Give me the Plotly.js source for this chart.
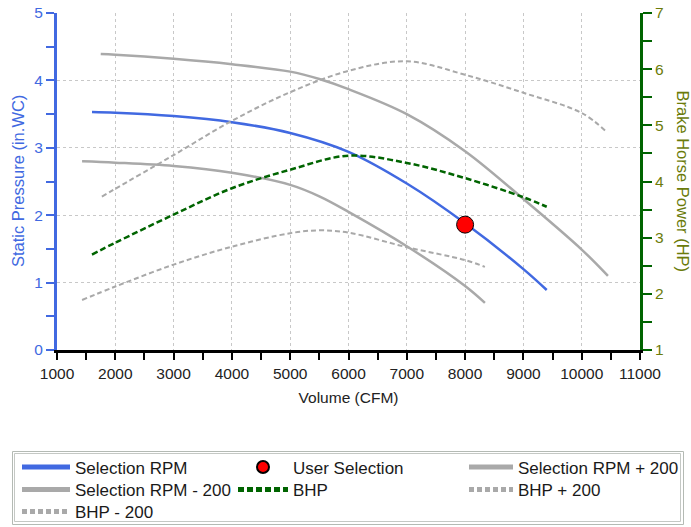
<!DOCTYPE html>
<html>
<head>
<meta charset="utf-8">
<script src="https://cdn.plot.ly/plotly-3.0.1.min.js"></script>
<style>html,body{margin:0;padding:0;background:#fff;}#chart{width:691px;height:527px;}</style>
</head>
<body>
<div id="chart"></div>
<script>
// ---- data ----
const cfmSel   = [1600, 2000, 3000, 4000, 5000, 6000, 7000, 8000, 9000, 9400];
const spSel    = [3.53, 3.52, 3.47, 3.38, 3.22, 2.94, 2.47, 1.88, 1.20, 0.89];

const cfmPlus  = [1750, 2000, 3000, 4000, 5000, 5500, 6000, 7000, 8000, 9000, 10000, 10450];
const spPlus   = [4.39, 4.38, 4.32, 4.24, 4.13, 4.02, 3.87, 3.50, 2.95, 2.24, 1.49, 1.10];

const cfmMinus = [1430, 2000, 3000, 4000, 5000, 5500, 6000, 7000, 8000, 8340];
const spMinus  = [2.80, 2.78, 2.73, 2.63, 2.45, 2.28, 2.05, 1.54, 0.95, 0.70];

const cfmBhp   = [1600, 2000, 3000, 4000, 5000, 6000, 7000, 8000, 9000, 9400];
const bhp      = [2.70, 2.91, 3.41, 3.88, 4.21, 4.46, 4.33, 4.06, 3.72, 3.55];

const cfmBhpP  = [1770, 2000, 3000, 4000, 5000, 6000, 7000, 8000, 9000, 10000, 10400];
const bhpPlus  = [3.73, 3.87, 4.47, 5.08, 5.59, 5.97, 6.14, 5.90, 5.58, 5.22, 4.91];

const cfmBhpM  = [1430, 2000, 3000, 4000, 5000, 5500, 6000, 7000, 8000, 8340];
const bhpMinus = [1.89, 2.13, 2.52, 2.84, 3.08, 3.13, 3.09, 2.83, 2.60, 2.48];

const userCfm  = [8000];
const userSp   = [1.86];

const seriesNames = ["Selection RPM", "User Selection", "Selection RPM + 200",
                     "Selection RPM - 200", "BHP", "BHP + 200", "BHP - 200"];
const xTitle  = "Volume (CFM)";
const yTitle  = "Static Pressure (in.WC)";
const y2Title = "Brake Horse Power (HP)";

// ---- styling ----
const BLUE = "#4169E1", GREEN = "#006400", GRAY = "#A9A9A9", OLIVE = "#6b7b0a";
const FONT = "Arial, 'Liberation Sans', sans-serif";
const W = 691, H = 527, ML = 57, MR = 51, MT = 13, MB = 177;
const PW = W - ML - MR, PH = H - MT - MB;
const px2x = p => (p - ML) / PW;
const px2y = p => (H - MB - p) / PH;

const traces = [
  {x: cfmSel, y: spSel, name: seriesNames[0], mode: "lines", line: {color: BLUE, width: 2.5, shape: "spline", smoothing: 1}, legend: "legend"},
  {x: userCfm, y: userSp, name: seriesNames[1], mode: "markers", marker: {color: "#ff0000", size: 17, line: {color: "#000", width: 1}}, legend: "legend2"},
  {x: cfmPlus, y: spPlus, name: seriesNames[2], mode: "lines", line: {color: GRAY, width: 2.5, shape: "spline", smoothing: 1}, legend: "legend3"},
  {x: cfmMinus, y: spMinus, name: seriesNames[3], mode: "lines", line: {color: GRAY, width: 2.5, shape: "spline", smoothing: 1}, legend: "legend4"},
  {x: cfmBhp, y: bhp, name: seriesNames[4], yaxis: "y2", mode: "lines", line: {color: GREEN, width: 2.5, dash: "6px,3px", shape: "spline", smoothing: 1}, legend: "legend5"},
  {x: cfmBhpP, y: bhpPlus, name: seriesNames[5], yaxis: "y2", mode: "lines", line: {color: GRAY, width: 2, dash: "5px,3px", shape: "spline", smoothing: 1}, legend: "legend6"},
  {x: cfmBhpM, y: bhpMinus, name: seriesNames[6], yaxis: "y2", mode: "lines", line: {color: GRAY, width: 2, dash: "5px,3px", shape: "spline", smoothing: 1}, legend: "legend7"}
];
// draw order: put user selection on top
const order = [2, 3, 5, 6, 4, 0, 1];
const data = order.map(i => traces[i]);

function leg(xpx, rowCenter, iw) {
  return {
    xref: "container", yref: "container",
    x: xpx / W, y: 1 - (rowCenter - 17.5) / H,
    xanchor: "left", yanchor: "top",
    bgcolor: "rgba(0,0,0,0)", borderwidth: 0,
    itemwidth: iw, itemsizing: "constant",
    font: {family: FONT, size: 17, color: "#1a1a1a"}
  };
}
const r1 = 467, r2 = 489.5, r3 = 511.5;

const layout = {
  width: W, height: H,
  margin: {l: ML, r: MR, t: MT, b: MB, pad: 0, autoexpand: false},
  paper_bgcolor: "#fff", plot_bgcolor: "#fff",
  showlegend: true,
  font: {family: FONT},
  xaxis: {
    range: [1000, 11000], tick0: 1000, dtick: 1000, tickformat: "d",
    ticks: "outside", ticklen: 7, tickwidth: 2, tickcolor: "#000",
    showline: true, linecolor: "#000", linewidth: 3,
    showgrid: true, gridcolor: "#c8c8c8", griddash: "3px,3px", gridwidth: 1,
    zeroline: false, tickangle: 0,
    minor: {dtick: 500, ticks: "outside", ticklen: 7, tickwidth: 2, tickcolor: "#000", showgrid: false},
    tickfont: {family: FONT, size: 15.5, color: "#222"},
    title: {text: xTitle, font: {family: FONT, size: 15.5, color: "#222"}, standoff: 12},
    automargin: false
  },
  yaxis: {
    range: [0, 5], tick0: 0, dtick: 1,
    ticks: "outside", ticklen: 8, tickwidth: 2, tickcolor: BLUE,
    showline: true, linecolor: BLUE, linewidth: 3,
    showgrid: true, gridcolor: "#c8c8c8", griddash: "3px,3px", gridwidth: 1,
    zeroline: false,
    minor: {dtick: 0.5, ticks: "outside", ticklen: 8, tickwidth: 2, tickcolor: BLUE, showgrid: false},
    tickfont: {family: FONT, size: 15.5, color: BLUE},
    automargin: false
  },
  yaxis2: {
    overlaying: "y", side: "right", anchor: "x",
    range: [1, 7], tick0: 1, dtick: 1,
    ticks: "outside", ticklen: 9, tickwidth: 2, tickcolor: GREEN,
    showline: true, linecolor: GREEN, linewidth: 3,
    showgrid: false, zeroline: false,
    minor: {dtick: 0.5, ticks: "outside", ticklen: 9, tickwidth: 2, tickcolor: GREEN, showgrid: false},
    tickfont: {family: FONT, size: 15.5, color: OLIVE},
    automargin: false
  },
  annotations: [
    {text: yTitle, textangle: -90, showarrow: false,
     xref: "paper", yref: "paper", x: px2x(17.5), y: 0.5,
     xanchor: "center", yanchor: "middle",
     font: {family: FONT, size: 16.5, color: BLUE}},
    {text: y2Title, textangle: 90, showarrow: false,
     xref: "paper", yref: "paper", x: px2x(683), y: 0.5,
     xanchor: "center", yanchor: "middle",
     font: {family: FONT, size: 16.5, color: OLIVE}}
  ],
  shapes: [
    {type: "rect", xref: "paper", yref: "paper", x0: px2x(12.5), x1: px2x(683.5), y0: px2y(451.5), y1: px2y(524.5),
     line: {color: "#b4bab4", width: 1}, fillcolor: "rgba(0,0,0,0)", layer: "above"},
    {type: "rect", xref: "paper", yref: "paper", x0: px2x(14.5), x1: px2x(680.5), y0: px2y(453.5), y1: px2y(521.5),
     line: {color: "#c4c8c4", width: 1}, fillcolor: "rgba(0,0,0,0)", layer: "above"}
  ],
  legend:  leg(17, r1, 48),
  legend2: leg(233, r1, 50),
  legend3: leg(464, r1, 44),
  legend4: leg(17, r2, 48),
  legend5: leg(233, r2, 50),
  legend6: leg(464, r2, 44),
  legend7: leg(17, r3, 48)
};

Plotly.newPlot("chart", data, layout, {staticPlot: true, displayModeBar: false});
</script>
</body>
</html>
